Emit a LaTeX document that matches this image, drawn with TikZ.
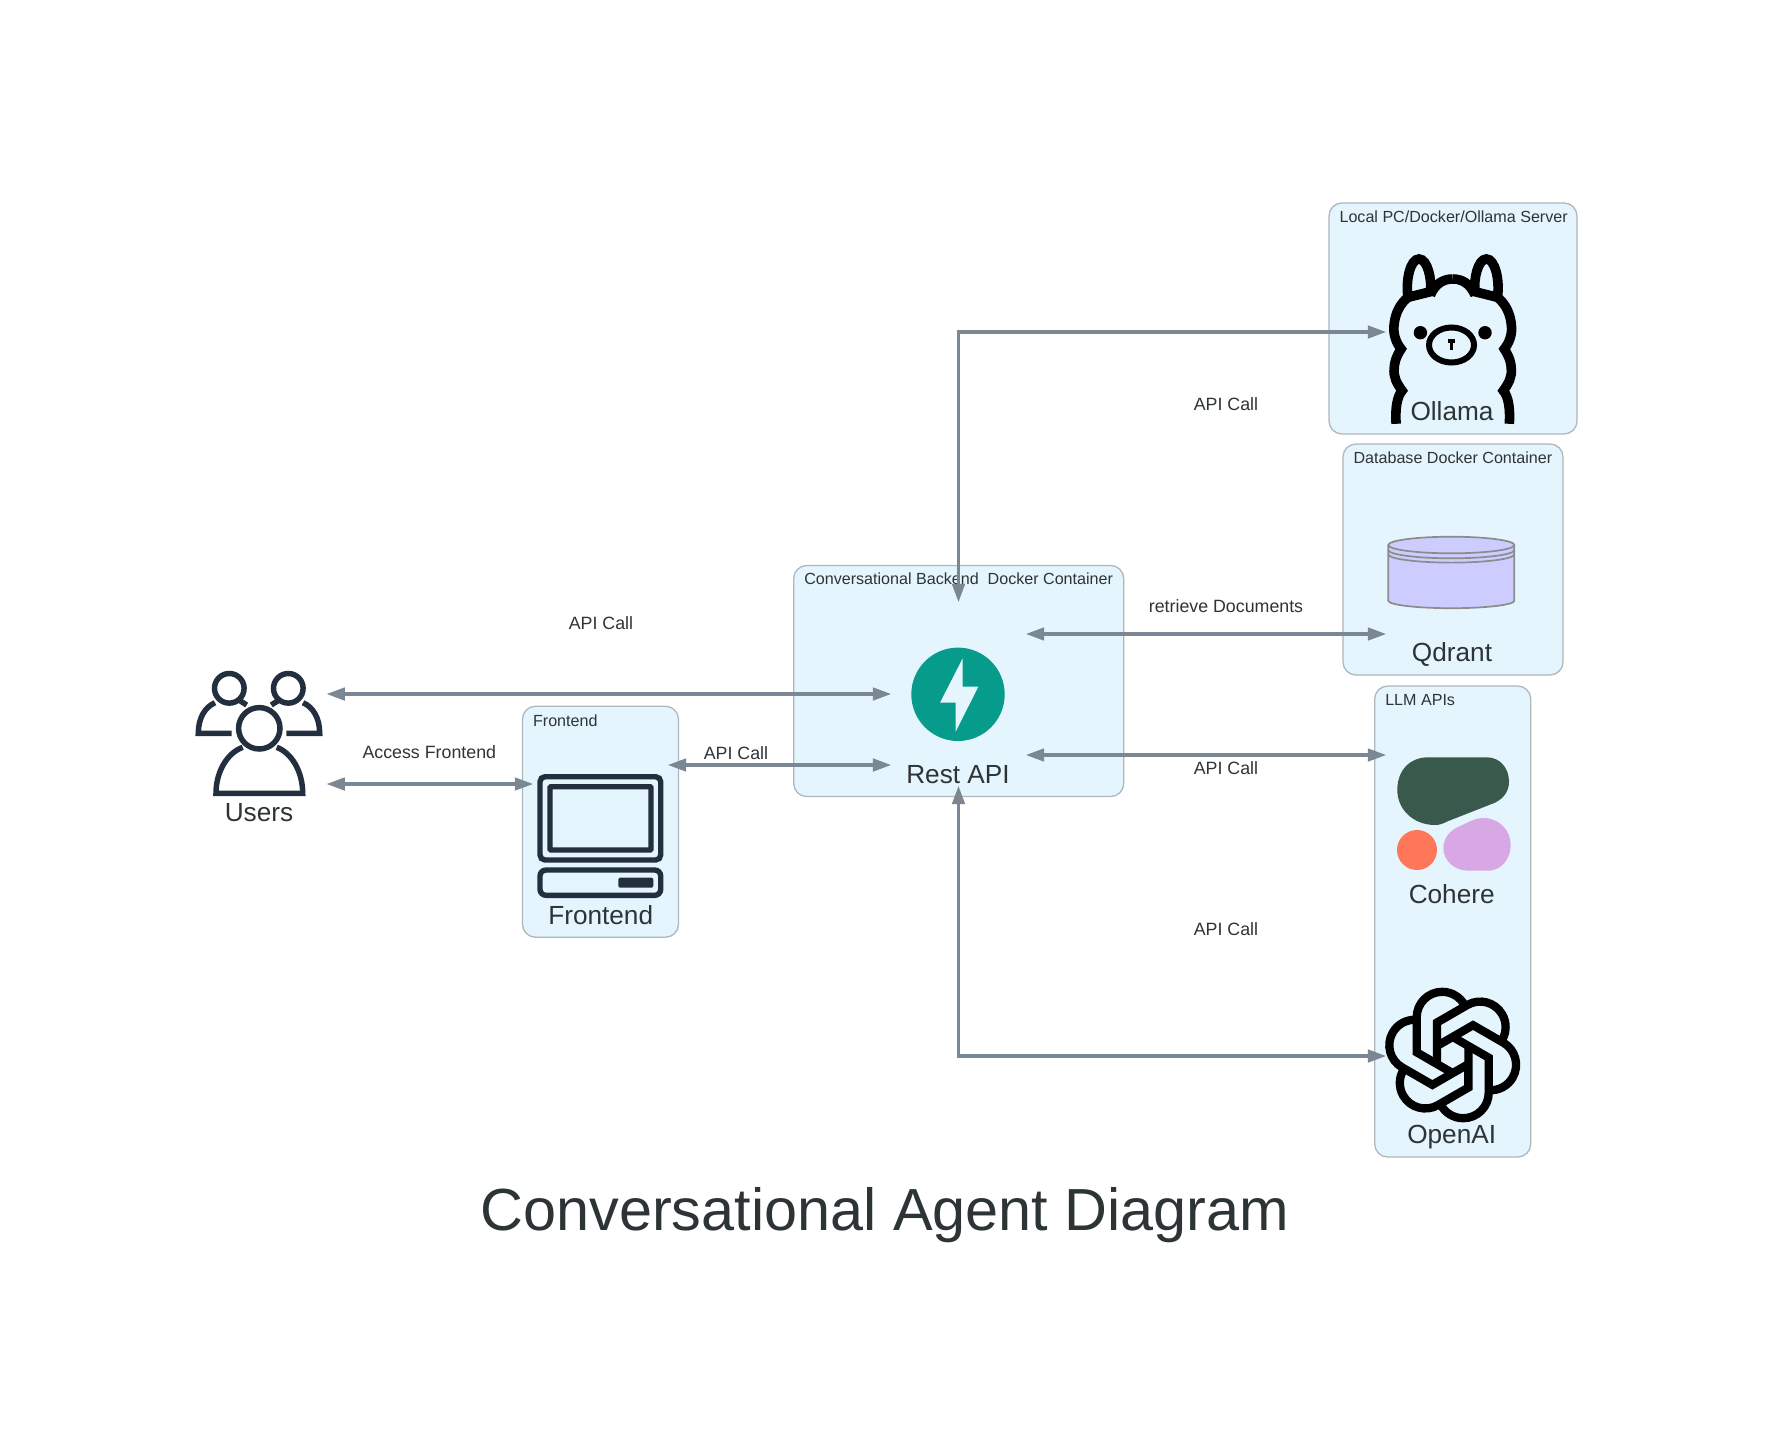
\documentclass[tikz,border=0pt]{standalone}
\usepackage{fontspec}
\setmainfont{Liberation Sans}
\usetikzlibrary{arrows.meta}

\definecolor{groupfill}{HTML}{E5F5FD}
\definecolor{groupline}{HTML}{AEB6BE}
\definecolor{inktext}{HTML}{2D3436}
\definecolor{linkline}{HTML}{7B8894}
\definecolor{awsdark}{HTML}{232F3E}
\definecolor{fastteal}{HTML}{069B8A}
\definecolor{cohgreen}{HTML}{39594D}
\definecolor{cohcoral}{HTML}{FF7759}
\definecolor{cohlilac}{HTML}{D8A8E5}
\definecolor{dbfill}{HTML}{CCCCFF}
\definecolor{dbline}{HTML}{8C8C8C}

\tikzset{
  groupbox/.style={draw=groupline,line width=1.3pt,fill=groupfill,rounded corners=13pt,inner sep=0pt},
  grouptitle/.style={anchor=base west,inner sep=0pt,text=inktext,font=\fontsize{16.1}{18}\selectfont},
  iconbox/.style={minimum width=135pt,minimum height=184pt,inner sep=0pt},
  caption/.style={anchor=base,inner sep=0pt,text=inktext,font=\fontsize{26.2}{30}\selectfont},
  linktext/.style={anchor=base,inner sep=0pt,text=inktext,font=\fontsize{17.8}{20}\selectfont},
  link/.style={draw=linkline,line width=3.1pt,
    {Triangle[length=18pt,width=13.5pt,line width=0pt]}-{Triangle[length=18pt,width=13.5pt,line width=0pt]}},
}

\begin{document}
\begin{tikzpicture}[x=1pt,y=-1pt]
  \useasboundingbox (0,0) rectangle (1769,1430);

  % clusters
  \node[groupbox,minimum width=330pt,minimum height=231pt] (backendbox) at (958.7,681) {};
  \node[grouptitle] (backendtitle) at ([shift={(11pt,-20pt)}]backendbox.north west) {Conversational Backend\ \ Docker Container};
  \node[groupbox,minimum width=156pt,minimum height=231pt] (frontbox) at (600.5,821.7) {};
  \node[grouptitle] (fronttitle) at ([shift={(11pt,-21pt)}]frontbox.north west) {Frontend};
  \node[groupbox,minimum width=248pt,minimum height=231pt] (ollamabox) at (1453,318.5) {};
  \node[grouptitle] (ollamatitle) at ([shift={(11pt,-20pt)}]ollamabox.north west) {Local PC/Docker/Ollama Server};
  \node[groupbox,minimum width=220pt,minimum height=231pt] (dbbox) at (1453,559.5) {};
  \node[grouptitle] (dbtitle) at ([shift={(11pt,-20pt)}]dbbox.north west) {Database Docker Container};
  \node[groupbox,minimum width=156pt,minimum height=471pt] (llmbox) at (1452.7,921.5) {};
  \node[grouptitle] (llmtitle) at ([shift={(11pt,-20pt)}]llmbox.north west) {LLM APIs};

  % places of the icons, the links end on these
  \node[iconbox] (users) at (259.2,738) {};
  \node[iconbox] (front) at (600.5,784) {};
  \node[iconbox] (rest) at (958.5,694) {};
  \node[iconbox,minimum width=131pt] (ollama) at (1451.5,332) {};
  \node[iconbox,minimum width=131pt] (qdrant) at (1451.5,634) {};
  \node[iconbox,minimum width=131pt] (cohere) at (1451.5,755) {};
  \node[iconbox,minimum width=131pt] (openai) at (1451.5,1056) {};

  % users
  \begin{scope}[draw=awsdark,line width=5.5pt]
    \draw (259.3,728.3) circle (20.7);
    \draw (242.7,747.3) .. controls (227,753) and (216,772) .. (216,793.3) -- (302.7,793.3) .. controls (302.7,772) and (292,753) .. (276.7,747.3);
    \foreach \cx in {229.3,288.3} \draw (\cx,688.3) circle (14.8);
    \draw (215,702.7) .. controls (205,707) and (198.3,718) .. (198.3,733.3) -- (231.7,733.3);
    \draw (303,702.7) .. controls (313,707) and (319.7,718) .. (319.7,733.3) -- (286.3,733.3);
    \draw (240,700.7) -- (246.7,705);
    \draw (278,700.7) -- (271.3,705);
  \end{scope}
  \node[caption] (userstext) at (259,821.5) {Users};

  % frontend
  \begin{scope}[draw=awsdark,line width=5.4pt]
    \draw[rounded corners=5pt] (540,776.7) rectangle (660.7,860);
    \draw[rounded corners=1pt] (550,786.7) rectangle (651,850);
    \draw[rounded corners=6pt] (540,870) rectangle (660.7,895.3);
    \fill[awsdark,rounded corners=2pt] (618.3,877.7) rectangle (653.3,887.7);
  \end{scope}
  \node[caption] (fronttext) at (600.7,924) {Frontend};

  % rest api
  \fill[fastteal] (958,694.3) circle (46.7);
  \fill[groupfill] (962.7,658.3) -- (940,702.7) -- (955.7,702.7) -- (955.7,731.7) -- (978.3,686.7) -- (962.7,686.7) -- cycle;
  \node[caption] (resttext) at (958,783.7) {Rest API};

  % ollama
  \foreach \side in {1,-1} {
    \begin{scope}[xshift=1452.7pt,xscale=\side,draw=black,line width=9.6pt]
      \draw (-56.6,423.8) .. controls (-57.6,410) and (-56,396.7) .. (-50.6,390.7)
        .. controls (-56,383.3) and (-59.5,376.7) .. (-58.5,368.3)
        .. controls (-58.2,360) and (-54.5,353.3) .. (-51.6,349)
        .. controls (-56.2,343.3) and (-59.5,335) .. (-58.8,326.7)
        .. controls (-58,313.3) and (-52.3,303.3) .. (-44.7,297.3);
      \draw (-44.7,297.3) .. controls (-47.3,280) and (-42.3,259) .. (-33.7,259)
        .. controls (-25,259) and (-20.7,280) .. (-22.3,291.7) -- cycle;
      \draw (-22.3,295) .. controls (-17.3,283.3) and (-9,279) .. (0,279);
      \fill (-32.3,332.7) circle (6.7);
    \end{scope}
  }
  \draw[black,line width=6pt] (1451.5,345) ellipse (22.5 and 17.5);
  \draw[black,line width=3.5pt] (1448,341) -- (1455,341);
  \draw[black,line width=3.5pt] (1451.5,341) -- (1451.5,350);
  \node[caption] (ollamatext) at (1452,420.3) {Ollama};

  % qdrant
  \begin{scope}[draw=dbline,line width=1.7pt]
    \draw[fill=dbfill] (1388.3,545) -- (1388.3,600.7) arc (180:360:63 and -7.5) -- (1514.3,545);
    \draw[fill=dbfill] (1451.3,545) ellipse (63 and 8.3);
    \draw (1388.3,550) arc (180:360:63 and -8.3);
    \draw (1388.3,554.3) arc (180:360:63 and -8.3);
  \end{scope}
  \node[caption] (qdranttext) at (1452,661) {Qdrant};

  % cohere
  \fill[cohgreen] (1428.3,757.3) -- (1486.7,757.3) .. controls (1500,757.3) and (1509,768) .. (1509,781.7)
    .. controls (1509,791) and (1504,798) .. (1495,802.7) -- (1448.3,821)
    .. controls (1443,823.5) and (1440,825) .. (1435,825) .. controls (1414,825) and (1397.3,810) .. (1397.3,790)
    .. controls (1397.3,770) and (1410,757.3) .. (1428.3,757.3) -- cycle;
  \fill[cohcoral] (1417,850) circle (20);
  \fill[cohlilac] (1460,826) .. controls (1468,822.5) and (1475,818) .. (1483.3,818)
    .. controls (1499,818) and (1510.7,830) .. (1510.7,845) .. controls (1510.7,860) and (1500,870.7) .. (1488.3,870.7)
    -- (1468.3,870.7) .. controls (1454,870.7) and (1443.3,860) .. (1443.3,848.3)
    .. controls (1443.3,838) and (1450,830) .. (1460,826) -- cycle;
  \node[caption] (coheretext) at (1451.7,903) {Cohere};

  % openai
  \foreach \turn in {0,60,...,300} {
    \begin{scope}[shift={(1452.7,1055)},rotate=\turn]
      \draw[black,line width=8.3pt] (1,18.7) -- (-36,-2.7) -- (-36,-37.7) arc (180:332.5:25.5);
    \end{scope}
  }
  \node[caption] (openaitext) at (1451.7,1143.7) {OpenAI};

  % links
  \draw[link] (users.east |- rest.west) -- (rest.west);
  \draw[link] (users.east |- front.west) -- (front.west);
  \draw[link] ([yshift=19pt]front.east) -- ([yshift=19pt]front.east -| rest.west);
  \draw[link] (rest.north) |- (ollama.west);
  \draw[link] (rest.east |- qdrant.west) -- (qdrant.west);
  \draw[link] (rest.east |- cohere.west) -- (cohere.west);
  \draw[link] (rest.south) |- (openai.west);

  % link labels
  \node[linktext] (apiusers) at (601,629) {API Call};
  \node[linktext] (accessfront) at (429.3,758) {Access Frontend};
  \node[linktext] (apifront) at (736,759) {API Call};
  \node[linktext] (apiollama) at (1226,410) {API Call};
  \node[linktext] (retrieve) at (1226,612) {retrieve Documents};
  \node[linktext] (apicohere) at (1226,774) {API Call};
  \node[linktext] (apiopenai) at (1226,935) {API Call};

  \node[anchor=base,inner sep=0pt,text=inktext,font=\fontsize{59.4}{70}\selectfont] (title) at (885,1230.5) {Conversational Agent Diagram};
\end{tikzpicture}
\end{document}
